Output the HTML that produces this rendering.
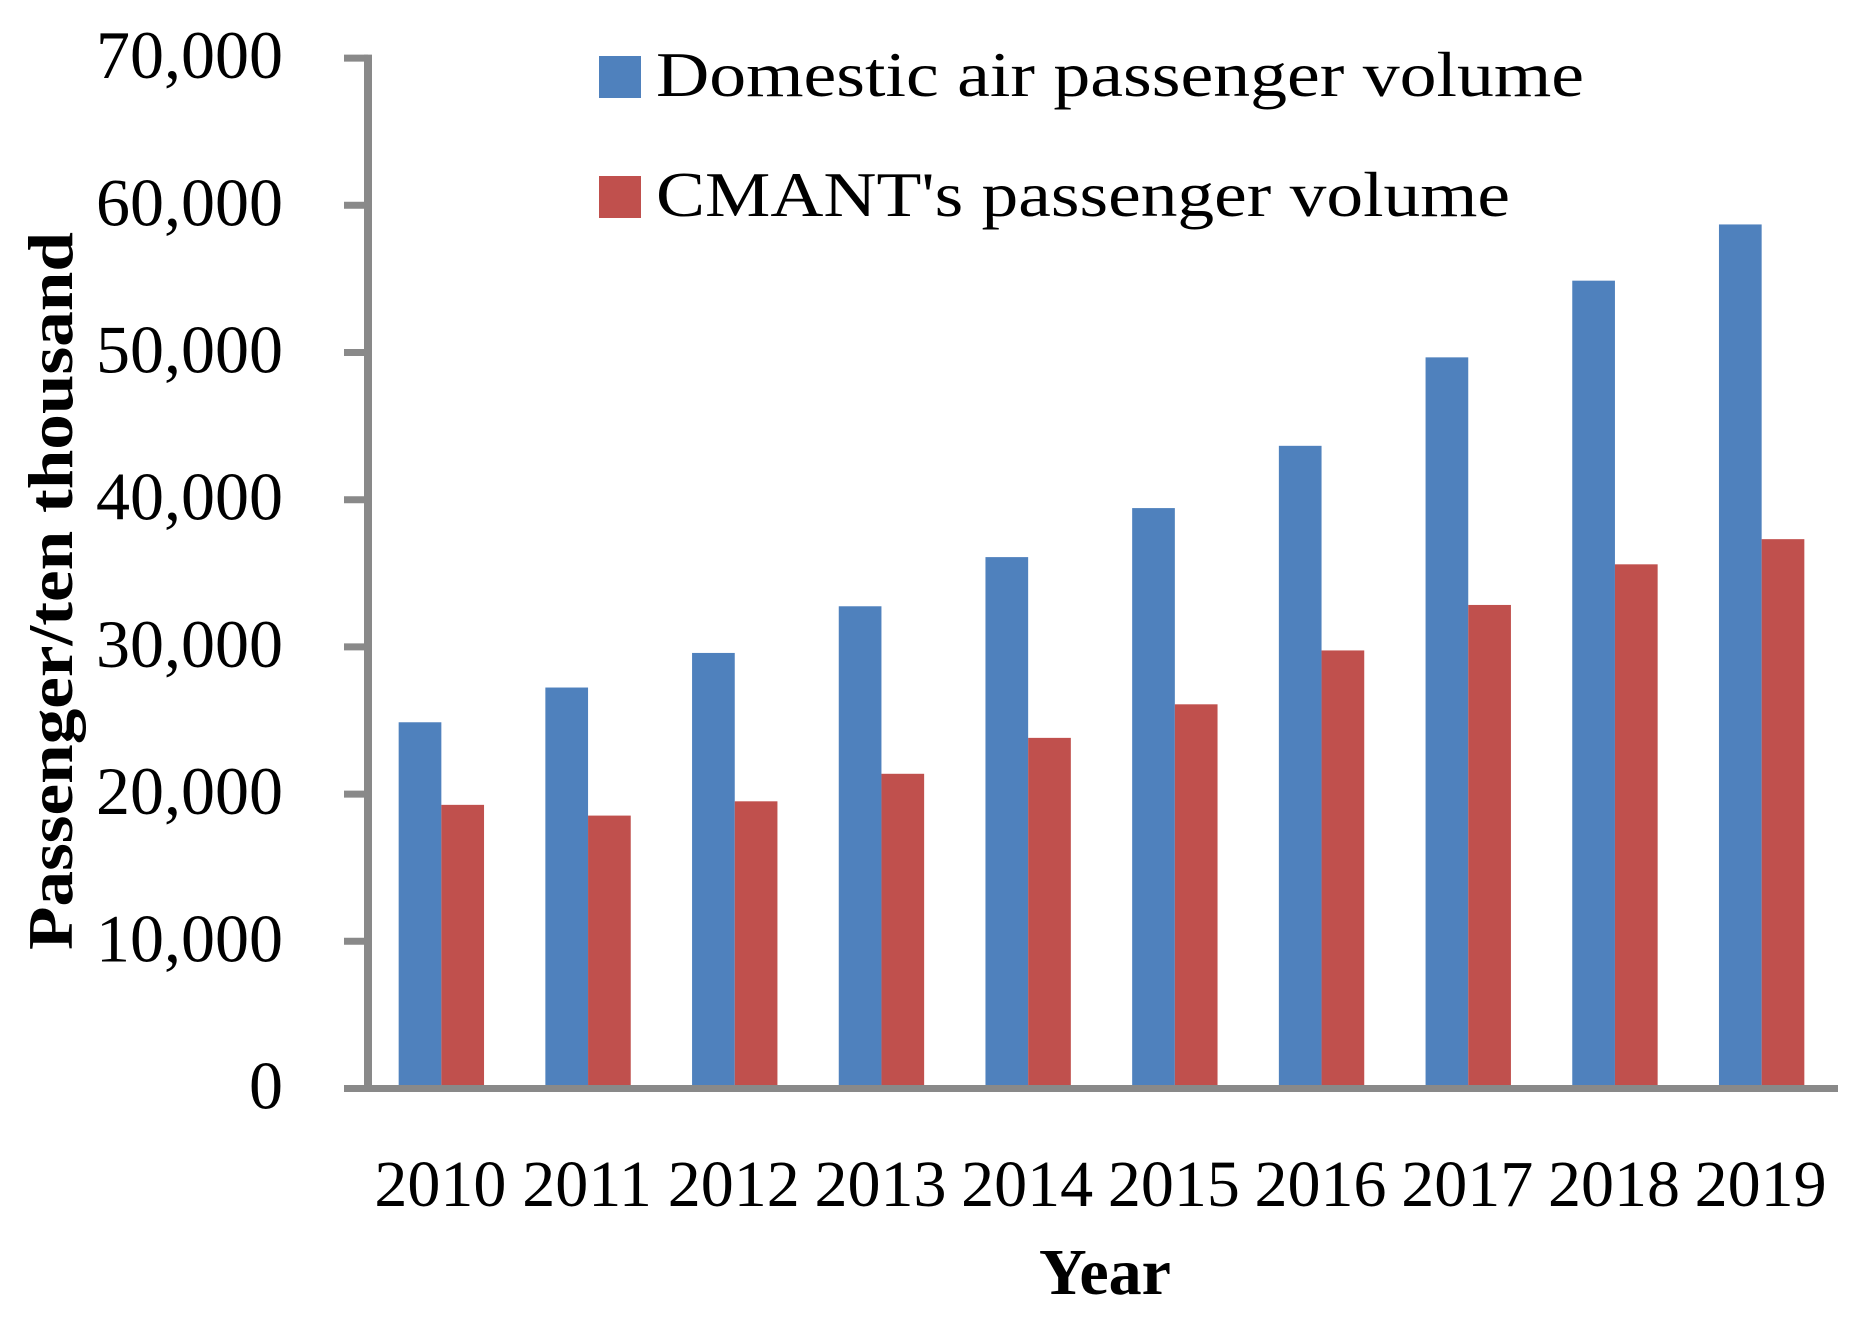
<!DOCTYPE html>
<html><head><meta charset="utf-8"><style>
html,body{margin:0;padding:0;background:#fff}
svg{display:block}
text{font-family:"Liberation Serif",serif;fill:#000}
</style></head><body>
<svg id="chart" width="1869" height="1322" viewBox="0 0 1869 1322" xmlns="http://www.w3.org/2000/svg">
<g id="bars"></g>
<g id="axes"></g>
<g id="legend">
  <rect x="599" y="56" width="42" height="42" fill="#4f81bd"/>
  <text x="656" y="96" font-size="64" textLength="928" lengthAdjust="spacingAndGlyphs">Domestic air passenger volume</text>
  <rect x="599" y="176" width="42" height="42" fill="#c0504d"/>
  <text x="656" y="216" font-size="64" textLength="854" lengthAdjust="spacingAndGlyphs">CMANT's passenger volume</text>
</g>
<text transform="translate(72,591) rotate(-90)" text-anchor="middle" font-size="64" font-weight="bold" textLength="718" lengthAdjust="spacingAndGlyphs">Passenger/ten thousand</text>
<text x="1105" y="1294" text-anchor="middle" font-size="66" font-weight="bold">Year</text>
</svg>
<script>
const categories = ["2010","2011","2012","2013","2014","2015","2016","2017","2018","2019"];
const domesticValues = [24880,27240,29590,32760,36100,39430,43660,49670,54880,58700];
const cmantValues = [19270,18540,19510,21380,23820,26100,29760,32850,35610,37320];
const yTicks = [0,10000,20000,30000,40000,50000,60000,70000];
const yTickLabels = ["0","10,000","20,000","30,000","40,000","50,000","60,000","70,000"];

const NS = "http://www.w3.org/2000/svg";
const plotLeft = 368, plotRight = 1835, zeroY = 1088.5, pxPer = 147.2/10000;
const catW = (plotRight - plotLeft) / categories.length;
const barW = catW * 0.291;
function yScale(v){ return zeroY - v * pxPer; }
function xCat(i){ return plotLeft + i * catW; }
function mk(tag, attrs, parent){
  const e = document.createElementNS(NS, tag);
  for (const k in attrs) e.setAttribute(k, attrs[k]);
  parent.appendChild(e);
  return e;
}
const bars = document.getElementById("bars");
const axes = document.getElementById("axes");
categories.forEach((c, i) => {
  const x0 = xCat(i) + (catW - 2*barW)/2;
  const b = mk("rect", {x:x0, y:yScale(domesticValues[i]), width:barW, height:zeroY - yScale(domesticValues[i]), fill:"#4f81bd"}, bars);
  
  
  const r = mk("rect", {x:x0 + barW, y:yScale(cmantValues[i]), width:barW, height:zeroY - yScale(cmantValues[i]), fill:"#c0504d"}, bars);
  
  
  const t = mk("text", {x:xCat(i) + catW/2 - 1, y:1206, "text-anchor":"middle", "font-size":"66"}, axes);
  t.textContent = c;
  
  
});
yTicks.forEach((v, i) => {
  const y = yScale(v);
  const tk = mk("line", {x1:344, x2:368, y1:y, y2:y, stroke:"#898989", "stroke-width":7}, axes);
  
  
  const t = mk("text", {x:283, y:y + 20, "text-anchor":"end", "font-size":"68"}, axes);
  t.textContent = yTickLabels[i];
  
  
});
const ya = mk("line", {x1:368, x2:368, y1:yScale(70000) - 3.5, y2:zeroY + 3.5, stroke:"#898989", "stroke-width":8}, axes);


const xa = mk("line", {x1:344, x2:1838, y1:zeroY, y2:zeroY, stroke:"#898989", "stroke-width":7}, axes);


</script>
</body></html>
